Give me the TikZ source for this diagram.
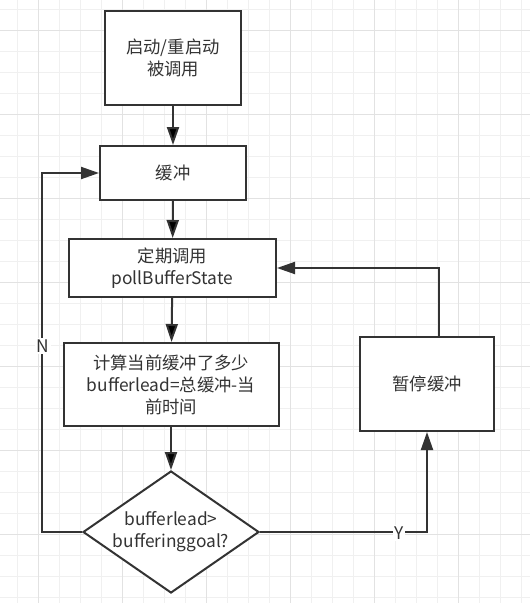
\documentclass[tikz,border=0pt]{standalone}
\usepackage{fontspec}
\setmainfont{Noto Sans CJK SC}
\usetikzlibrary{arrows.meta}
\usetikzlibrary{shapes.geometric}

\definecolor{linegray}{HTML}{333333}
\definecolor{gridlight}{HTML}{F0F0F0}
\definecolor{griddark}{HTML}{E2E2E2}

\begin{document}
\begin{tikzpicture}[x=0.75pt,y=-0.75pt,
    box/.style={shape=rectangle,draw=linegray,line width=1.5pt,fill=white,align=center,
      text=linegray,inner sep=0pt,font=\fontsize{13}{16.5}\selectfont},
    choice/.style={shape=diamond,aspect=1.45,draw=linegray,line width=1.5pt,fill=white,align=center,
      text=linegray,inner sep=0pt,font=\fontsize{13}{16.5}\selectfont},
    flow/.style={draw=linegray,line width=1.5pt,-{Triangle[length=13.5pt,width=9pt]}},
    tag/.style={fill=white,text=linegray,inner sep=1pt,font=\fontsize{13}{14}\selectfont}]
    \useasboundingbox (0,0) rectangle (530,603);
    \fill[white] (0,0) rectangle (530,603);
    % grid
    \foreach \i in {0,...,24} \draw[gridlight,line width=0.9pt] (17.7+21*\i,0) -- (17.7+21*\i,603);
    \foreach \j in {0,...,28} \draw[gridlight,line width=0.9pt] (0,9.7+21*\j) -- (530,9.7+21*\j);
    \foreach \i in {1,5,...,21} \draw[griddark,line width=0.9pt] (17.7+21*\i,0) -- (17.7+21*\i,603);
    \foreach \j in {1,5,...,25} \draw[griddark,line width=0.9pt] (0,9.7+21*\j) -- (530,9.7+21*\j);

    \node[box,minimum width=102pt,minimum height=70.5pt] (start) at (173,58) {启动/重启动\\被调用};
    \node[box,minimum width=109.5pt,minimum height=40.5pt] (buffer) at (173,173) {缓冲};
    \node[box,minimum width=155.25pt,minimum height=43.5pt] (poll) at (172.5,268) {定期调用\\pollBufferState};
    \node[box,minimum width=161.25pt,minimum height=62.25pt] (calc) at (171,384.5) {计算当前缓冲了多少\\bufferlead=总缓冲-当\\前时间};
    \node[choice,minimum width=132pt,minimum height=91.5pt] (check) at (171,532) {bufferlead>\\bufferinggoal?};
    \node[box,minimum width=100.5pt,minimum height=70.5pt] (pause) at (427,384) {暂停缓冲};
    \coordinate (back) at (42,173);

    \path [flow] (start) edge (buffer);
    \path [flow] (buffer) edge (poll);
    \path [flow] (poll) edge (calc);
    \path [flow] (calc) edge (check);
    \draw [flow] (check.east) -| (pause.south);
    \draw [flow] ([xshift=9pt]pause.north) |- (poll.east);
    \draw [flow] (check.west) -| (back) -- (buffer.west);

    \node[tag] (yes) at (399,533) {Y};
    \node[tag] (no) at (43,346) {N};
\end{tikzpicture}
\end{document}
